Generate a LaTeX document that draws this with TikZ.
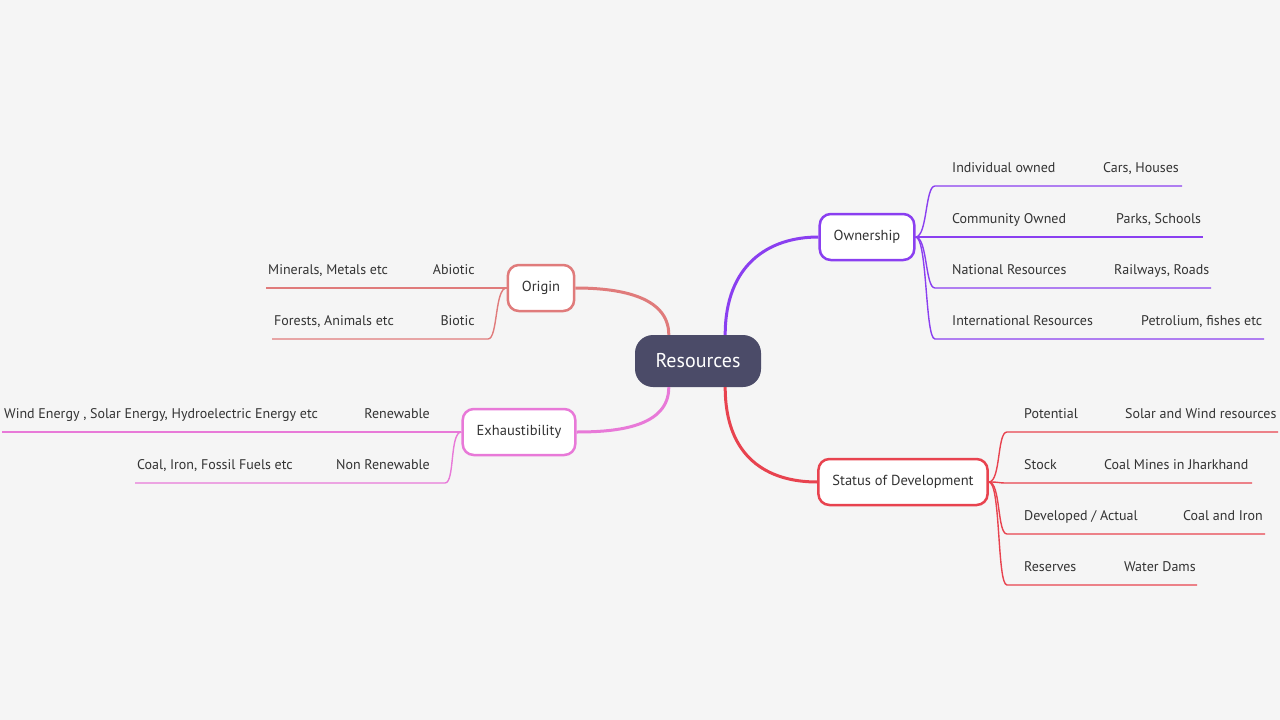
\documentclass[tikz,border=0pt]{standalone}
\usepackage{fontspec}
\setmainfont{PT Sans}
\usetikzlibrary{positioning}
\definecolor{bgcol}{HTML}{F5F5F5}
\definecolor{hubcol}{HTML}{4B4B68}
\definecolor{owncol}{HTML}{8A3FF0}
\definecolor{stacol}{HTML}{E8434F}
\definecolor{oricol}{HTML}{E07B7B}
\definecolor{exhcol}{HTML}{E879D8}

\begin{document}
\begin{tikzpicture}[
    x=1pt, y=-1pt,
    hub/.style={rectangle, fill=hubcol, text=white, rounded corners=18pt, minimum width=126pt, minimum height=52pt, font=\fontsize{20}{24}\selectfont},
    branch/.style={rectangle, draw=#1, fill=white, text=black!80, line width=2.5pt, rounded corners=11pt, minimum height=46pt, inner xsep=14pt, font=\fontsize{14.5}{18}\selectfont},
    leaf/.style={inner sep=0pt, font=\fontsize{14}{17}\selectfont, text=black!80},
    stem/.style={draw=#1, line width=3pt},
    twig/.style={draw=#1, line width=1.4pt}
]
\fill[bgcol] (0,0) rectangle (1280,720);
\useasboundingbox (0,0) rectangle (1280,720);

% Place the nodes
\node [hub] (res) at (698,361) {Resources};
\node [branch=owncol] (own) at (867,237) {Ownership};
\node [branch=stacol] (sta) at (903,482) {Status of Development};
\node [branch=oricol] (ori) at (541,288) {Origin};
\node [branch=exhcol] (exh) at (519,432) {Exhaustibility};

% Draw the stems
\path [stem=owncol] (res.north east) ++(-36,0) .. controls +(0,-70) and +(-50,0) .. (own.west);
\path [stem=stacol] (res.south east) ++(-36,0) .. controls +(0,70) and +(-50,0) .. (sta.west);
\path [stem=oricol] (res.north west) ++(34,0) .. controls +(0,-40) and +(40,0) .. (ori.east);
\path [stem=exhcol] (res.south west) ++(34,0) .. controls +(0,40) and +(40,0) .. (exh.east);

% Ownership leaves
\foreach \y/\a/\b/\bx/\ex in {186/{Individual owned}/{Cars, Houses}/1103/1182,
                              237/{Community Owned}/{Parks, Schools}/1116/1203,
                              288/{National Resources}/{Railways, Roads}/1114/1211,
                              339/{International Resources}/{Petrolium, fishes etc}/1141/1264} {
  \node [leaf, anchor=base west] (ownc\y) at (952,\y-14) {\a};
  \node [leaf, anchor=base west] (ownd\y) at (\bx,\y-14) {\b};
  \coordinate (owne\y) at (\ex,\y);
  \path [twig=owncol] (own.east) .. controls +(12,0) and +(-10,0) .. (935,\y) -- (owne\y);
}

% Status leaves
\foreach \y/\a/\b/\bx/\ex in {432/{Potential}/{Solar and Wind resources}/1125/1278,
                              483/{Stock}/{Coal Mines in Jharkhand}/1104/1252,
                              534/{Developed / Actual}/{Coal and Iron}/1183/1265,
                              585/{Reserves}/{Water Dams}/1124/1197} {
  \node [leaf, anchor=base west] (stac\y) at (1024,\y-14) {\a};
  \node [leaf, anchor=base west] (stad\y) at (\bx,\y-14) {\b};
  \coordinate (stae\y) at (\ex,\y);
  \path [twig=stacol] (sta.east) .. controls +(12,0) and +(-10,0) .. (1007,\y) -- (stae\y);
}

% Origin leaves
\foreach \y/\a/\b/\ex in {288/{Abiotic}/{Minerals, Metals etc}/266,
                          339/{Biotic}/{Forests, Animals etc}/272} {
  \node [leaf, anchor=base east] (oric\y) at (475,\y-14) {\a};
  \node [leaf, anchor=base west] (orid\y) at (\ex+2,\y-14) {\b};
  \coordinate (orie\y) at (\ex,\y);
  \path [twig=oricol] (ori.west) .. controls +(-12,0) and +(10,0) .. (488,\y) -- (orie\y);
}

% Exhaustibility leaves
\foreach \y/\a/\b/\ex in {432/{Renewable}/{Wind Energy , Solar Energy, Hydroelectric Energy etc}/2,
                          483/{Non Renewable}/{Coal, Iron, Fossil Fuels etc}/135} {
  \node [leaf, anchor=base east] (exhc\y) at (430,\y-14) {\a};
  \node [leaf, anchor=base west] (exhd\y) at (\ex+2,\y-14) {\b};
  \coordinate (exhe\y) at (\ex,\y);
  \path [twig=exhcol] (exh.west) .. controls +(-12,0) and +(10,0) .. (445,\y) -- (exhe\y);
}

\end{tikzpicture}
\end{document}
